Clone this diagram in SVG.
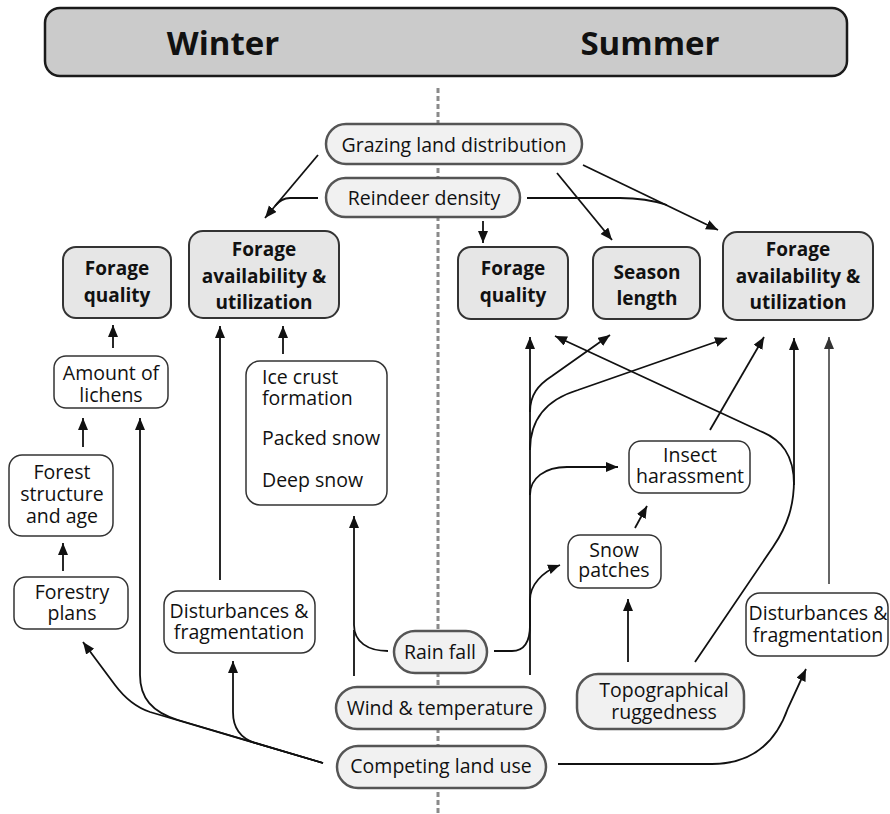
<svg xmlns="http://www.w3.org/2000/svg" width="890" height="814" viewBox="0 0 890 814">
<defs>
<marker id="ah" markerUnits="userSpaceOnUse" markerWidth="13" markerHeight="11" refX="12" refY="5" orient="auto">
<path d="M0,0 L12,5 L0,10 z" fill="#111"/>
</marker>
<marker id="ahg" markerUnits="userSpaceOnUse" markerWidth="13" markerHeight="11" refX="12" refY="5" orient="auto">
<path d="M0,0 L12,5 L0,10 z" fill="#333"/>
</marker>
<style>
text{font-family:"Open Sans","Noto Sans","DejaVu Sans",sans-serif;fill:#111;font-size:19.5px;text-anchor:middle}
.b{font-weight:bold;font-size:19px}
.hd{font-weight:bold;font-size:33px}
.l{text-anchor:start}
.gray{fill:#e6e6e6;stroke:#333;stroke-width:2}
.pill{fill:#f1f1f1;stroke:#555;stroke-width:2.5}
.wht{fill:#fff;stroke:#333;stroke-width:1.5}
.c{fill:none;stroke:#111;stroke-width:1.8}
.a{marker-end:url(#ah)}
</style>
</defs>
<rect x="45" y="8" width="802" height="68" rx="15" fill="#cbcbcb" stroke="#1a1a1a" stroke-width="2.5"/>
<text class="hd" x="223" y="55">Winter</text>
<text class="hd" x="650" y="55">Summer</text>
<line x1="438" y1="88" x2="438" y2="814" stroke="#8a8a8a" stroke-width="3" stroke-dasharray="5,3"/>
<g id="connectors">
<path class="c a" d="M318,155 L265,218"/>
<path class="c" d="M318,198 L290,198 C283,198 279,201 275,206"/>
<path class="c a" d="M557,173 L612,240"/>
<path class="c a" d="M583,165 L718,230"/>
<path class="c" d="M527,198 L620,198 C640,198 655,201 667,205"/>
<path class="c a" d="M483,221 L483,243"/>
<path class="c a" d="M113,348 L113,325"/>
<path class="c a" d="M283,354 L283,326"/>
<path class="c a" d="M220,580 L220,326"/>
<path class="c a" d="M83,447 L83,418"/>
<path class="c a" d="M63,571 L63,543"/>
<path class="c a" d="M323,763 L150,712 C135,707 124,697 115,685 L83,642"/>
<path class="c a" d="M323,763 L178,720 C152,712 140,698 140,675 L140,418"/>
<path class="c a" d="M323,763 L255,743 C240,738 233,728 233,712 L233,661"/>
<path class="c a" d="M388,651 C368,651 354,642 354,625 L354,516"/>
<path class="c" d="M354,676 L354,630"/>
<path class="c a" d="M530,675 L530,337"/>
<path class="c a" d="M530,412 C530,395 538,385 552,376 L610,335"/>
<path class="c a" d="M530,450 C530,420 545,400 578,390 L727,338"/>
<path class="c a" d="M530,495 C530,478 545,467 567,467 L618,467"/>
<path class="c a" d="M494,651 L512,651 C524,651 530,642 530,625 L530,600 C530,585 542,572 560,565"/>
<path class="c a" d="M635,528 L647,506"/>
<path class="c a" d="M628,662 L628,599"/>
<path class="c a" d="M695,662 L773,547 C788,525 794,505 794,480 L794,338"/>
<path class="c a" d="M794,485 C794,455 782,440 760,431 L555,336"/>
<path class="c a" d="M710,430 L764,337"/>
<path d="M829,584 L829,337" fill="none" stroke="#666" stroke-width="2" marker-end="url(#ahg)"/>
<path class="c a" d="M558,764 L712,764 C750,764 775,745 788,708 L806,669"/>
</g>
<g id="grazing"><rect class="pill" x="326" y="124" width="256" height="40" rx="20"/><text x="454" y="152">Grazing land distribution</text></g>
<g id="reindeer"><rect class="pill" x="326" y="178" width="194" height="39" rx="19.5"/><text x="424" y="205">Reindeer density</text></g>
<g id="fq-winter"><rect class="gray" x="63" y="247" width="108" height="71" rx="13"/><text class="b" x="117" y="275">Forage</text><text class="b" x="117" y="302">quality</text></g>
<g id="fa-winter"><rect class="gray" x="189" y="231" width="150" height="87" rx="14"/><text class="b" x="264" y="256">Forage</text><text class="b" x="264" y="283">availability &amp;</text><text class="b" x="264" y="309">utilization</text></g>
<g id="lichens"><rect class="wht" x="54" y="356" width="114" height="52" rx="12"/><text x="111" y="380">Amount of</text><text x="111" y="402">lichens</text></g>
<g id="snowcond"><rect class="wht" x="246" y="361" width="141" height="144" rx="14"/><text class="l" x="262" y="384">Ice crust</text><text class="l" x="262" y="405">formation</text><text class="l" x="262" y="445">Packed snow</text><text class="l" x="262" y="487">Deep snow</text></g>
<g id="forest"><rect class="wht" x="9" y="455" width="104" height="81" rx="13"/><text x="62" y="479">Forest</text><text x="62" y="501">structure</text><text x="62" y="523">and age</text></g>
<g id="forestry"><rect class="wht" x="14" y="577" width="114" height="52" rx="12"/><text x="72" y="599">Forestry</text><text x="72" y="620">plans</text></g>
<g id="dist-winter"><rect class="wht" x="164" y="591" width="151" height="62" rx="14"/><text x="239" y="618">Disturbances &amp;</text><text x="239" y="639">fragmentation</text></g>
<g id="rainfall"><rect class="pill" x="394" y="631" width="93" height="42" rx="21"/><text x="440" y="659">Rain fall</text></g>
<g id="wind"><rect class="pill" x="336" y="687" width="209" height="42" rx="21"/><text x="440" y="715">Wind &amp; temperature</text></g>
<g id="competing"><rect class="pill" x="337" y="746" width="209" height="42" rx="21"/><text x="441" y="773">Competing land use</text></g>
<g id="fq-summer"><rect class="gray" x="458" y="247" width="110" height="72" rx="13"/><text class="b" x="513" y="275">Forage</text><text class="b" x="513" y="302">quality</text></g>
<g id="season"><rect class="gray" x="593" y="247" width="107" height="72" rx="13"/><text class="b" x="647" y="279">Season</text><text class="b" x="647" y="305">length</text></g>
<g id="fa-summer"><rect class="gray" x="723" y="232" width="150" height="88" rx="14"/><text class="b" x="798" y="256">Forage</text><text class="b" x="798" y="283">availability &amp;</text><text class="b" x="798" y="309">utilization</text></g>
<g id="insect"><rect class="wht" x="629" y="441" width="121" height="52" rx="12"/><text x="690" y="462">Insect</text><text x="690" y="483">harassment</text></g>
<g id="snowpatch"><rect class="wht" x="568" y="535" width="93" height="53" rx="12"/><text x="614" y="557">Snow</text><text x="614" y="577">patches</text></g>
<g id="topo"><rect class="pill" x="577" y="674" width="167" height="55" rx="21"/><text x="664" y="697">Topographical</text><text x="664" y="719">ruggedness</text></g>
<g id="dist-summer"><rect class="wht" x="746" y="593" width="142" height="63" rx="14"/><text x="818" y="620">Disturbances &amp;</text><text x="818" y="642">fragmentation</text></g>
</svg>
